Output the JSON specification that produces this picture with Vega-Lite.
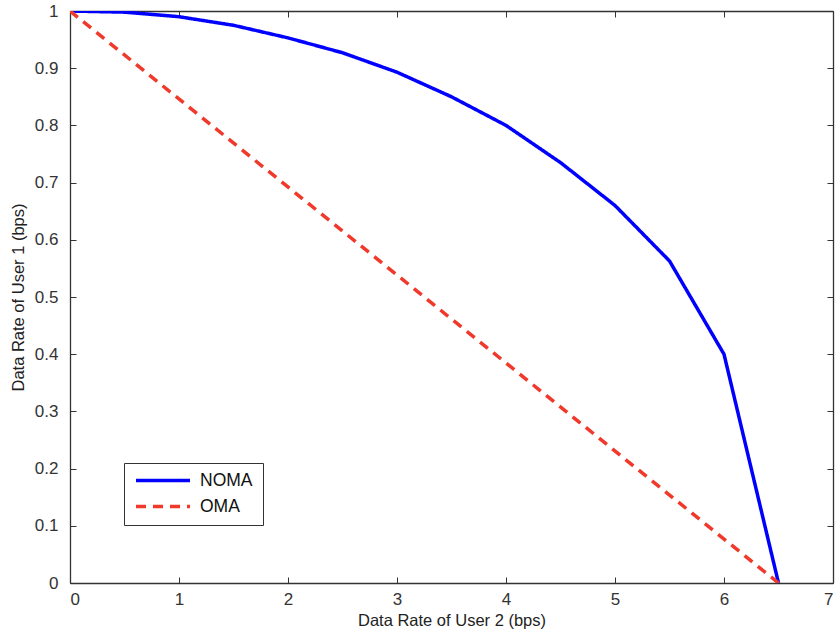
{
  "$schema": "https://vega.github.io/schema/vega-lite/v6.json",
  "width": 763,
  "height": 572,
  "autosize": {"type": "none"},
  "padding": {"left": 70, "top": 11, "right": 5, "bottom": 54},
  "background": "white",
  "config": {
    "view": {"stroke": null},
    "font": "Liberation Sans",
    "axis": {
      "grid": false,
      "domainColor": "#333333",
      "domainWidth": 1.3,
      "tickColor": "#333333",
      "tickSize": -6,
      "labelFontSize": 17,
      "labelColor": "#333333",
      "titleFontSize": 16.5,
      "titleFontWeight": "normal",
      "titleColor": "#222222"
    },
    "legend": {
      "title": null, "orient": "none", "legendX": 54, "legendY": 452,
      "strokeColor": "#333333", "fillColor": "white", "padding": 10,
      "labelFontSize": 17.5, "labelColor": "#111111", "symbolType": "stroke",
      "symbolSize": 2916, "symbolStrokeWidth": 3.5, "clipHeight": 15, "rowPadding": 8, "labelOffset": 8
    }
  },
  "data": {
    "values": [
      {"x": 0, "y": 1.0, "series": "NOMA"},
      {"x": 0.5, "y": 0.998, "series": "NOMA"},
      {"x": 1, "y": 0.99, "series": "NOMA"},
      {"x": 1.5, "y": 0.975, "series": "NOMA"},
      {"x": 2, "y": 0.953, "series": "NOMA"},
      {"x": 2.5, "y": 0.927, "series": "NOMA"},
      {"x": 3, "y": 0.893, "series": "NOMA"},
      {"x": 3.5, "y": 0.85, "series": "NOMA"},
      {"x": 4, "y": 0.8, "series": "NOMA"},
      {"x": 4.5, "y": 0.735, "series": "NOMA"},
      {"x": 5, "y": 0.66, "series": "NOMA"},
      {"x": 5.5, "y": 0.563, "series": "NOMA"},
      {"x": 6, "y": 0.4, "series": "NOMA"},
      {"x": 6.5, "y": 0.0, "series": "NOMA"},
      {"x": 0, "y": 1.0, "series": "OMA"},
      {"x": 6.5, "y": 0.0, "series": "OMA"}
    ]
  },
  "layer": [
    {
      "mark": {"type": "line", "strokeWidth": 3.5, "clip": true},
      "encoding": {
        "x": {"field": "x", "type": "quantitative", "scale": {"domain": [0, 7], "nice": false},
              "axis": {"orient": "bottom", "title": "Data Rate of User 2 (bps)", "values": [0,1,2,3,4,5,6,7], "labelPadding": 14, "titlePadding": 5}},
        "y": {"field": "y", "type": "quantitative", "scale": {"domain": [0, 1], "nice": false, "zero": false},
              "axis": {"orient": "left", "title": "Data Rate of User 1 (bps)", "values": [0,0.1,0.2,0.3,0.4,0.5,0.6,0.7,0.8,0.9,1], "format": ".1~f", "labelPadding": 18, "titlePadding": 8}},
        "color": {"field": "series", "type": "nominal",
                  "scale": {"domain": ["NOMA", "OMA"], "range": ["#0000ff", "#f0392b"]}},
        "strokeDash": {"field": "series", "type": "nominal",
                       "scale": {"domain": ["NOMA", "OMA"], "range": [[1, 0], [10, 7]]}}
      }
    },
    {
      "mark": {"type": "point", "opacity": 0},
      "encoding": {
        "x": {"field": "x", "type": "quantitative", "scale": {"domain": [0, 7], "nice": false},
              "axis": {"orient": "top", "title": null, "labels": false, "values": [0,1,2,3,4,5,6,7]}},
        "y": {"field": "y", "type": "quantitative", "scale": {"domain": [0, 1], "nice": false, "zero": false},
              "axis": {"orient": "right", "title": null, "labels": false, "values": [0,0.1,0.2,0.3,0.4,0.5,0.6,0.7,0.8,0.9,1]}}
      }
    }
  ],
  "resolve": {"axis": {"x": "independent", "y": "independent"}}
}
